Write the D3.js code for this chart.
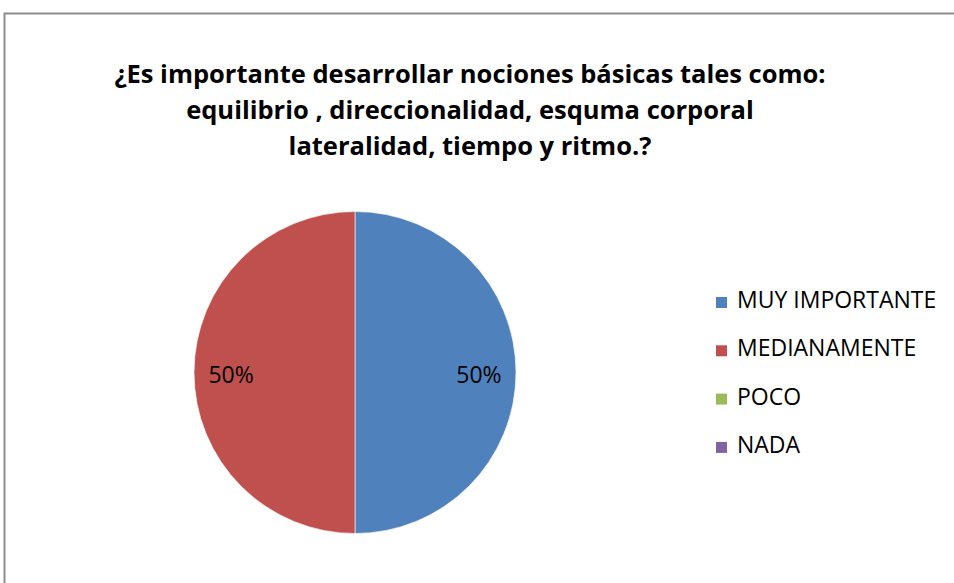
<!DOCTYPE html>
<html>
<head>
<meta charset="utf-8">
<script src="https://cdn.jsdelivr.net/npm/d3@7"></script>
<style>
  body { margin: 0; background: #fff; }
  svg { display: block; }
</style>
</head>
<body>
<div id="chart"></div>
<script>
// Chart data
const categories = ["MUY IMPORTANTE", "MEDIANAMENTE", "POCO", "NADA"];
const values = [50, 50, 0, 0];
const colors = ["#4f81bd", "#c0504d", "#9bbb59", "#8064a2"];
const titleLines = [
  "¿Es importante desarrollar nociones básicas tales como:",
  "equilibrio , direccionalidad, esquma corporal",
  "lateralidad, tiempo y ritmo.?"
];

const width = 954, height = 583;
const font = "'Open Sans', 'Liberation Sans', sans-serif";

const svg = d3.select("#chart").append("svg")
  .attr("width", width)
  .attr("height", height);

// Chart area border (runs off the right and bottom edges)
svg.append("rect")
  .attr("x", 4.5).attr("y", 13.5)
  .attr("width", 1000).attr("height", 700)
  .attr("fill", "#fff")
  .attr("stroke", "#8c8c8c")
  .attr("stroke-width", 2);

// Title
svg.append("g").selectAll("text")
  .data(titleLines)
  .enter().append("text")
  .attr("x", 470)
  .attr("y", (d, i) => 83 + i * 36)
  .attr("text-anchor", "middle")
  .attr("font-family", font)
  .attr("font-weight", "bold")
  .attr("font-size", "25.5px")
  .attr("fill", "#000")
  .text(d => d);

// Pie
const cx = 355, cy = 372.5, r = 161;
const pie = d3.pie().sort(null).value(d => d.value);
const arc = d3.arc().innerRadius(0).outerRadius(r);
const data = categories.map((c, i) => ({ name: c, value: values[i], color: colors[i] }));
const arcs = pie(data);

const g = svg.append("g").attr("transform", `translate(${cx},${cy})`);
g.selectAll("path")
  .data(arcs.filter(d => d.data.value > 0))
  .enter().append("path")
  .attr("d", arc)
  .attr("fill", d => d.data.color)
  .attr("stroke", "#fff")
  .attr("stroke-width", 0.6);

// Percentage labels, placed inside near the rim
const labelArc = d3.arc().innerRadius(r * 0.77).outerRadius(r * 0.77);
const total = d3.sum(values);
g.selectAll("text.pct")
  .data(arcs.filter(d => d.data.value > 0))
  .enter().append("text")
  .attr("class", "pct")
  .attr("x", d => labelArc.centroid(d)[0])
  .attr("y", d => labelArc.centroid(d)[1] + 10)
  .attr("text-anchor", "middle")
  .attr("font-family", font)
  .attr("font-size", "23px")
  .attr("fill", "#000")
  .text(d => Math.round(d.data.value / total * 100) + "%");

// Legend
const legend = svg.append("g").attr("transform", "translate(716,308)");
const row = legend.selectAll("g")
  .data(data)
  .enter().append("g")
  .attr("transform", (d, i) => `translate(0,${i * 48.3})`);
row.append("rect")
  .attr("x", 0).attr("y", -11)
  .attr("width", 11).attr("height", 11)
  .attr("fill", d => d.color);
row.append("text")
  .attr("x", 21).attr("y", 0)
  .attr("font-family", font)
  .attr("font-size", "23px")
  .attr("fill", "#000")
  .text(d => d.name);
</script>
</body>
</html>
